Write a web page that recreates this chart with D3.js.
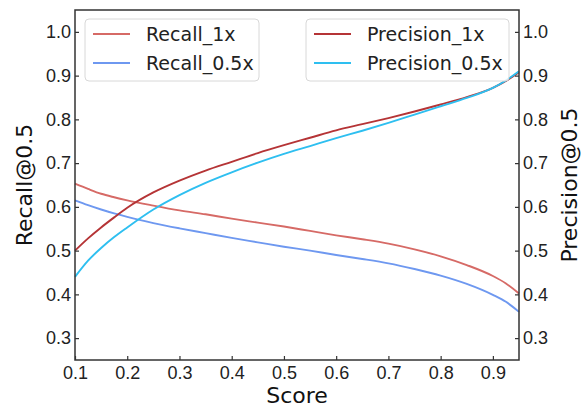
<!DOCTYPE html>
<html>
<head>
<meta charset="utf-8">
<script src="https://cdn.jsdelivr.net/npm/d3@7"></script>
<style>
  body { margin: 0; background: #fff; }
  svg { font-family: 'DejaVu Sans', sans-serif; }
</style>
</head>
<body>
<svg id="chart" width="583" height="407"></svg>
<script>
// score thresholds (x axis)
const scores = [0.1, 0.125, 0.15, 0.175, 0.2, 0.25, 0.3, 0.35, 0.4, 0.45, 0.5, 0.55, 0.6, 0.65, 0.7, 0.75, 0.8, 0.85, 0.9, 0.925, 0.95]

// left axis series
const recall1x = [0.653, 0.641, 0.630, 0.622, 0.615, 0.603, 0.592, 0.583, 0.573, 0.564, 0.555, 0.545, 0.535, 0.526, 0.516, 0.503, 0.487, 0.467, 0.442, 0.425, 0.402]
const recall05x = [0.615, 0.604, 0.594, 0.585, 0.577, 0.563, 0.551, 0.540, 0.529, 0.519, 0.509, 0.500, 0.490, 0.481, 0.471, 0.458, 0.443, 0.424, 0.399, 0.383, 0.360]

// right axis series
const precision1x = [0.500, 0.528, 0.553, 0.576, 0.598, 0.633, 0.660, 0.683, 0.703, 0.723, 0.741, 0.758, 0.775, 0.789, 0.803, 0.818, 0.834, 0.851, 0.872, 0.888, 0.908]
const precision05x = [0.440, 0.477, 0.506, 0.531, 0.553, 0.594, 0.627, 0.655, 0.679, 0.701, 0.721, 0.739, 0.757, 0.774, 0.792, 0.811, 0.830, 0.849, 0.872, 0.889, 0.910]

const xTicks = [0.1, 0.2, 0.3, 0.4, 0.5, 0.6, 0.7, 0.8, 0.9]
const yTicks = [0.3, 0.4, 0.5, 0.6, 0.7, 0.8, 0.9, 1.0]

const recallSeries = [
  { name: 'Recall_1x', values: recall1x, color: '#d66a66' },
  { name: 'Recall_0.5x', values: recall05x, color: '#6e98f0' }
]
const precisionSeries = [
  { name: 'Precision_1x', values: precision1x, color: '#b53436' },
  { name: 'Precision_0.5x', values: precision05x, color: '#2ebff0' }
]

const margin = { top: 10, right: 64, bottom: 47, left: 75 }
const width = 583 - margin.left - margin.right
const height = 407 - margin.top - margin.bottom

const svg = d3.select('#chart')
const g = svg.append('g').attr('transform', `translate(${margin.left},${margin.top})`)

const x = d3.scaleLinear().domain([0.1, 0.95]).range([0, width])
const yLeft = d3.scaleLinear().domain([0.25, 1.05]).range([height, 0])
const yRight = d3.scaleLinear().domain([0.25, 1.05]).range([height, 0])

// draw the lines
function drawSeries (series, y) {
  const line = d3.line()
    .x((d, i) => x(scores[i]))
    .y(d => y(d))
    .curve(d3.curveMonotoneX)
  series.forEach(s => {
    g.append('path')
      .datum(s.values)
      .attr('fill', 'none')
      .attr('stroke', s.color)
      .attr('stroke-width', 1.9)
      .attr('d', line)
  })
}
drawSeries(recallSeries, yLeft)
drawSeries(precisionSeries, yRight)

// frame: left, bottom, right and top
g.append('rect')
  .attr('width', width)
  .attr('height', height)
  .attr('fill', 'none')
  .attr('stroke', '#333')
  .attr('stroke-width', 1.5)

// axes with ticks pointing inwards
function styleAxis (sel) {
  sel.select('.domain').remove()
  sel.selectAll('line').attr('stroke', '#333').attr('stroke-width', 1.2)
  sel.selectAll('text').attr('fill', '#222').style('font-size', '18px')
}

g.append('g')
  .attr('transform', `translate(0,${height})`)
  .call(d3.axisBottom(x).tickValues(xTicks).tickFormat(d3.format('.1f')).tickSizeInner(-4).tickPadding(6))
  .call(styleAxis)

g.append('g')
  .call(d3.axisLeft(yLeft).tickValues(yTicks).tickFormat(d3.format('.1f')).tickSizeInner(-4).tickPadding(4))
  .call(styleAxis)

g.append('g')
  .attr('transform', `translate(${width},0)`)
  .call(d3.axisRight(yRight).tickValues(yTicks).tickFormat(d3.format('.1f')).tickSizeInner(-4).tickPadding(4))
  .call(styleAxis)

// axis titles
svg.append('text')
  .attr('x', margin.left + width / 2)
  .attr('y', 403)
  .attr('text-anchor', 'middle')
  .attr('fill', '#111')
  .style('font-size', '22px')
  .text('Score')

svg.append('text')
  .attr('transform', `translate(32,${margin.top + height / 2}) rotate(-90)`)
  .attr('text-anchor', 'middle')
  .attr('fill', '#111')
  .style('font-size', '22px')
  .text('Recall@0.5')

svg.append('text')
  .attr('transform', `translate(577,${margin.top + height / 2}) rotate(-90)`)
  .attr('text-anchor', 'middle')
  .attr('fill', '#111')
  .style('font-size', '22px')
  .text('Precision@0.5')

// legends
function drawLegend (series, lx, ly, w) {
  const lg = svg.append('g').attr('transform', `translate(${lx},${ly})`)
  lg.append('rect')
    .attr('width', w)
    .attr('height', 62)
    .attr('rx', 4)
    .attr('fill', 'rgba(255,255,255,0.8)')
    .attr('stroke', '#d8d8d8')
  series.forEach((s, i) => {
    const cy = 15 + i * 29
    lg.append('line')
      .attr('x1', 8).attr('x2', 45)
      .attr('y1', cy).attr('y2', cy)
      .attr('stroke', s.color)
      .attr('stroke-width', 1.9)
    lg.append('text')
      .attr('x', 61)
      .attr('y', cy + 7)
      .attr('fill', '#222')
      .style('font-size', '19px')
      .text(s.name)
  })
}
drawLegend(recallSeries, 85, 19, 174)
drawLegend(precisionSeries, 306, 19, 203)
</script>
</body>
</html>
